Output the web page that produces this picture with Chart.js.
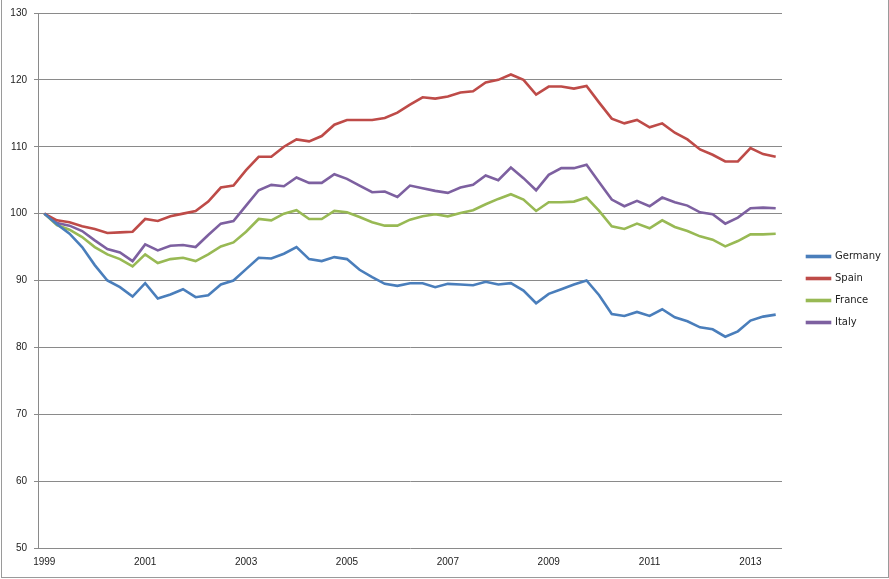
<!DOCTYPE html>
<html>
<head>
<meta charset="utf-8">
<script src="https://cdn.jsdelivr.net/npm/chart.js@4.4.1/dist/chart.umd.min.js"></script>
<style>
  body { margin: 0; background: #fff; }
  #wrap { position: relative; width: 889px; height: 579px; }
  #frame { position: absolute; left: 1px; top: -1px; width: 888px; height: 579px; box-sizing: border-box; border: 1px solid #9a9a9a; pointer-events: none; }
</style>
</head>
<body>
<div id="wrap">
  <canvas id="c" width="889" height="579"></canvas>
  <div id="frame"></div>
</div>
<script>
// quarterly categories, 1999 Q1 .. 2013 Q3
const quarters = [
  "1999Q1","1999Q2","1999Q3","1999Q4","2000Q1","2000Q2","2000Q3","2000Q4",
  "2001Q1","2001Q2","2001Q3","2001Q4","2002Q1","2002Q2","2002Q3","2002Q4",
  "2003Q1","2003Q2","2003Q3","2003Q4","2004Q1","2004Q2","2004Q3","2004Q4",
  "2005Q1","2005Q2","2005Q3","2005Q4","2006Q1","2006Q2","2006Q3","2006Q4",
  "2007Q1","2007Q2","2007Q3","2007Q4","2008Q1","2008Q2","2008Q3","2008Q4",
  "2009Q1","2009Q2","2009Q3","2009Q4","2010Q1","2010Q2","2010Q3","2010Q4",
  "2011Q1","2011Q2","2011Q3","2011Q4","2012Q1","2012Q2","2012Q3","2012Q4",
  "2013Q1","2013Q2","2013Q3"
];
const tickYears = ["1999","2001","2003","2005","2007","2009","2011","2013"];

const germany = [
  100, 98.4, 97.0, 95.0, 92.3, 90.0, 89.0, 87.6, 89.6, 87.3, 87.9, 88.7, 87.5, 87.8, 89.4, 90.0,
  91.7, 93.4, 93.3, 94.0, 95.0, 93.2, 92.9, 93.5, 93.2, 91.6, 90.5, 89.5, 89.2, 89.6,
  89.6, 89.0, 89.5, 89.4, 89.3, 89.8, 89.4, 89.6, 88.5, 86.6, 88.0, 88.7, 89.4, 90.0,
  87.8, 85.0, 84.7, 85.3, 84.7, 85.7, 84.5, 83.9, 83.0, 82.7, 81.6, 82.4, 84.0, 84.6, 84.9
];
const spain = [
  100, 99.0, 98.7, 98.1, 97.7, 97.1, 97.2, 97.3, 99.2, 98.9, 99.6, 100.0, 100.4, 101.8, 103.9, 104.2,
  106.5, 108.5, 108.5, 110.0, 111.1, 110.8, 111.6, 113.3, 114.0, 114.0, 114.0, 114.3, 115.1, 116.3,
  117.4, 117.2, 117.5, 118.1, 118.3, 119.6, 120.0, 120.8, 120.0, 117.8, 119.0, 119.0, 118.7, 119.1,
  116.6, 114.2, 113.5, 114.0, 112.9, 113.5, 112.1, 111.1, 109.6, 108.8, 107.8, 107.8, 109.8, 108.9, 108.5
];
const france = [
  100, 98.3, 97.6, 96.5, 95.0, 93.9, 93.2, 92.1, 93.9, 92.6, 93.2, 93.4, 92.9, 93.9, 95.1, 95.7,
  97.3, 99.2, 99.0, 100.0, 100.5, 99.2, 99.2, 100.4, 100.2, 99.5, 98.7, 98.2, 98.2, 99.1,
  99.6, 99.9, 99.6, 100.1, 100.5, 101.4, 102.2, 102.9, 102.1, 100.4, 101.7, 101.7, 101.8, 102.4,
  100.4, 98.1, 97.7, 98.5, 97.8, 99.0, 98.0, 97.4, 96.6, 96.1, 95.1, 95.9, 96.9, 96.9, 97.0
];
const italy = [
  100, 98.6, 98.2, 97.4, 96.0, 94.7, 94.2, 92.9, 95.4, 94.5, 95.2, 95.3, 95.0, 96.8, 98.5, 98.9,
  101.2, 103.5, 104.3, 104.1, 105.4, 104.6, 104.6, 105.9, 105.2, 104.2, 103.2, 103.3, 102.5, 104.2,
  103.8, 103.4, 103.1, 103.9, 104.3, 105.7, 105.0, 106.9, 105.3, 103.5, 105.8, 106.8, 106.8, 107.3,
  104.7, 102.1, 101.1, 101.9, 101.1, 102.4, 101.7, 101.2, 100.2, 99.9, 98.5, 99.4, 100.8, 100.9, 100.8
];
const seriesNames = ["Germany", "Spain", "France", "Italy"];
const seriesColors = ["#4a7ebb", "#be4b48", "#98b954", "#7d60a0"];

function line(i, values) {
  return {
    label: seriesNames[i],
    data: values,
    borderColor: seriesColors[i],
    backgroundColor: seriesColors[i],
    borderWidth: 2.6,
    pointRadius: 0,
    tension: 0,
  };
}

// legend sits a bit right of the plot, as in the Excel original
const legendPlace = {
  id: "legendPlace",
  beforeLayout(chart) {
    const lg = chart.legend;
    if (lg && !lg._fixed) {
      const fit = lg.fit.bind(lg);
      lg.fit = () => { fit(); lg.width = 107; };
      lg._fixed = true;
    }
  },
  afterLayout(chart) {
    const lg = chart.legend;
    lg.left += 13;
    lg.right += 13;
    lg.top -= 6;
    lg.bottom -= 6;
  },
};

const tickFont = { family: "'Liberation Sans', Arial, sans-serif", size: 10 };

new Chart(document.getElementById("c"), {
  type: "line",
  data: {
    labels: quarters,
    datasets: [line(0, germany), line(1, spain), line(2, france), line(3, italy)],
  },
  options: {
    responsive: false,
    animation: false,
    layout: { padding: { top: 12, right: 0, bottom: 0, left: 0 } },
    plugins: {
      legend: {
        position: "right",
        labels: {
          boxWidth: 23,
          boxHeight: 1,
          padding: 12,
          color: "#222",
          font: { family: "'DejaVu Sans', sans-serif", size: 10 },
        },
      },
      tooltip: { enabled: false },
    },
    scales: {
      x: {
        offset: true,
        grid: { display: false, drawTicks: false },
        border: { display: false },
        afterFit: (s) => { s.height = 31; },
        ticks: {
          autoSkip: false,
          maxRotation: 0,
          padding: 8,
          color: "#222",
          font: tickFont,
          callback: function (v, i) {
            const q = quarters[i];
            return q.endsWith("Q1") && tickYears.includes(q.slice(0, 4)) ? q.slice(0, 4) : "";
          },
        },
      },
      y: {
        min: 50,
        max: 130,
        afterFit: (s) => { s.width = 38; },
        ticks: { stepSize: 10, padding: 7, color: "#222", font: tickFont },
        grid: { color: "#8a8a8a", lineWidth: 1, tickLength: 4 },
        border: { color: "#8a8a8a" },
      },
    },
  },
  plugins: [legendPlace],
});
</script>
</body>
</html>
